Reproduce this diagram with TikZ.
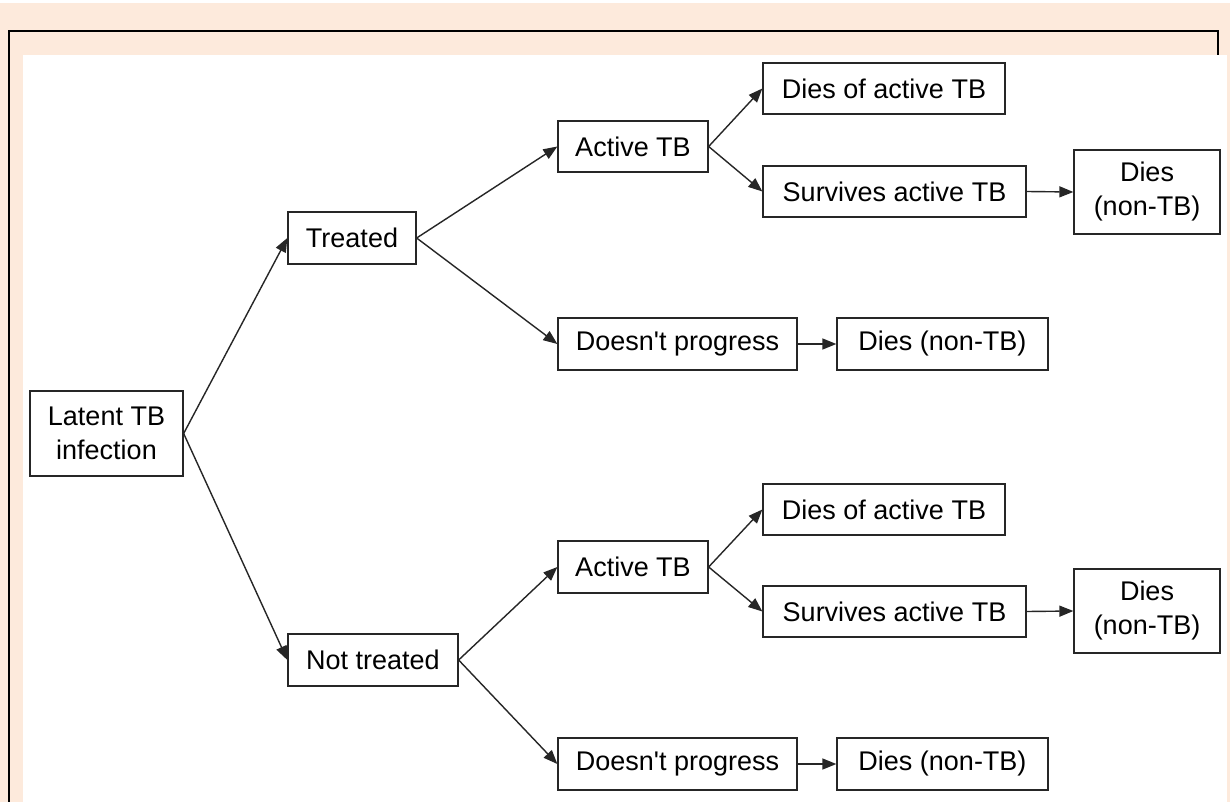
\documentclass[tikz,border=0pt]{standalone}
\usepackage{fontspec}
\setmainfont{Liberation Sans}
\usetikzlibrary{arrows.meta}
\definecolor{peach}{RGB}{253,234,220}
\begin{document}
\begin{tikzpicture}[x=1pt,y=-1pt,
  box/.style={draw=black!85,line width=1.3pt,inner sep=0pt,align=center,font=\fontsize{27}{34}\selectfont},
  arr/.style={-{Triangle[length=14pt,width=11pt]},line width=1.4pt,draw=black!85}]
\useasboundingbox (0,0) rectangle (1230,802);
\fill[white] (0,0) rectangle (1230,802);
\fill[peach] (0,3) rectangle (1230,802);
\draw[line width=2.5pt] (9,802) -- (9,31) -- (1218,31) -- (1218,56);
\fill[white] (23,55) rectangle (1227,802);
% nodes
\node[box,minimum width=153pt,minimum height=85pt] (lat) at (106.5,433.5) {Latent TB\\infection};
\node[box,minimum width=128pt,minimum height=52pt] (tr) at (352,238) {Treated};
\node[box,minimum width=170pt,minimum height=52pt] (nt) at (373,660) {Not treated};
\node[box,minimum width=150pt,minimum height=51pt] (a1) at (633,146.5) {Active TB};
\node[box,minimum width=239pt,minimum height=52pt] (d1) at (677.5,344) {Doesn\textquotesingle t progress};
\node[box,minimum width=242pt,minimum height=51pt] (da1) at (884,88.5) {Dies of active TB};
\node[box,minimum width=263pt,minimum height=51pt] (s1) at (894.5,191.5) {Survives active TB};
\node[box,minimum width=146pt,minimum height=84pt] (n1) at (1147,192) {Dies\\(non-TB)};
\node[box,minimum width=211pt,minimum height=52pt] (dn1) at (942.5,344) {Dies (non-TB)};
\node[box,minimum width=150pt,minimum height=52pt] (a2) at (633,567) {Active TB};
\node[box,minimum width=239pt,minimum height=52pt] (d2) at (677.5,764) {Doesn\textquotesingle t progress};
\node[box,minimum width=242pt,minimum height=51pt] (da2) at (884,509.5) {Dies of active TB};
\node[box,minimum width=263pt,minimum height=51pt] (s2) at (894.5,611.5) {Survives active TB};
\node[box,minimum width=146pt,minimum height=84pt] (n2) at (1147,611) {Dies\\(non-TB)};
\node[box,minimum width=211pt,minimum height=52pt] (dn2) at (942.5,764) {Dies (non-TB)};
% connectors
\draw[arr] (lat.east) -- (tr.west);
\draw[arr] (lat.east) -- (nt.west);
\draw[arr] (tr.east) -- (a1.west);
\draw[arr] (tr.east) -- (d1.west);
\draw[arr] (a1.east) -- (da1.west);
\draw[arr] (a1.east) -- (s1.west);
\draw[arr] (s1.east) -- (n1.west);
\draw[arr] (d1.east) -- (dn1.west);
\draw[arr] (nt.east) -- (a2.west);
\draw[arr] (nt.east) -- (d2.west);
\draw[arr] (a2.east) -- (da2.west);
\draw[arr] (a2.east) -- (s2.west);
\draw[arr] (s2.east) -- (n2.west);
\draw[arr] (d2.east) -- (dn2.west);
\end{tikzpicture}
\end{document}
